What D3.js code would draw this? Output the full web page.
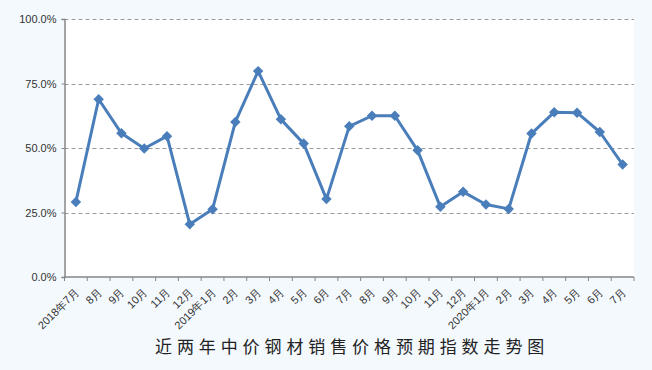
<!DOCTYPE html>
<html>
<head>
<meta charset="utf-8">
<script src="https://cdn.jsdelivr.net/npm/d3@7"></script>
<style>
  body { margin: 0; background: #f4f9fe; }
  svg { display: block; }
</style>
</head>
<body>
<div id="chart"></div>
<script>
const months = ['2018年7月', '8月', '9月', '10月', '11月', '12月', '2019年1月', '2月', '3月', '4月', '5月', '6月',
    '7月', '8月', '9月', '10月', '11月', '12月', '2020年1月', '2月', '3月', '4月', '5月', '6月', '7月'];
const indexValues = [29.1, 68.9, 55.7, 49.8, 54.6, 20.4, 26.3, 60.1, 79.8, 61.1, 51.7, 30.2,
    58.4, 62.5, 62.5, 49.1, 27.2, 33.0, 28.1, 26.4, 55.6, 63.9, 63.7, 56.2, 43.6];
const yTicks = [0, 25, 50, 75, 100];
const title = '近两年中价钢材销售价格预期指数走势图';

const width = 652;
const height = 370;
const margin = {left: 64.5, right: 18, top: 19, bottom: 93};
const W = width - margin.left - margin.right;
const H = height - margin.top - margin.bottom;
const lineColor = '#4a7ebb';

const svg = d3.select('#chart').append('svg')
    .attr('width', width)
    .attr('height', height);

svg.append('rect')
    .attr('width', width)
    .attr('height', height)
    .attr('fill', '#f4f9fe');

const chart = svg.append('g')
    .attr('transform', `translate(${margin.left},${margin.top})`);

chart.append('rect')
    .attr('width', W)
    .attr('height', H)
    .attr('fill', '#ffffff');

// band positions, points sit in the middle of each band
const xScale = d3.scaleBand()
    .domain(d3.range(months.length))
    .range([0, W]);

const yScale = d3.scaleLinear()
    .domain([0, 100])
    .range([H, 0]);

// dashed grid
chart.selectAll('.grid')
    .data(yTicks.filter(t => t > 0))
    .enter().append('line')
    .attr('class', 'grid')
    .attr('x1', 0)
    .attr('x2', W)
    .attr('y1', d => Math.round(yScale(d)) + 0.5)
    .attr('y2', d => Math.round(yScale(d)) + 0.5)
    .attr('stroke', '#9a9a9a')
    .attr('stroke-width', 1)
    .attr('stroke-dasharray', '4,3');

const yAxis = d3.axisLeft(yScale)
    .tickValues(yTicks)
    .tickSize(3)
    .tickPadding(5)
    .tickFormat(d => d.toFixed(1) + '%');

chart.append('g')
    .attr('class', 'yAxis')
    .call(yAxis)
    .call(g => g.select('.domain').attr('stroke', '#868686').attr('stroke-width', 1.5))
    .call(g => g.selectAll('.tick line').attr('stroke', '#868686'))
    .call(g => g.selectAll('text')
        .attr('fill', '#333')
        .style('font-family', '"Liberation Sans", Arial, sans-serif')
        .style('font-size', '11px'));

// x axis: ticks between categories
const xAxisG = chart.append('g')
    .attr('class', 'xAxis')
    .attr('transform', `translate(0,${H})`);

xAxisG.append('line')
    .attr('x1', 0)
    .attr('x2', W)
    .attr('stroke', '#868686')
    .attr('stroke-width', 1.5);

xAxisG.selectAll('.xtick')
    .data(d3.range(months.length + 1))
    .enter().append('line')
    .attr('class', 'xtick')
    .attr('x1', i => i < months.length ? xScale(i) : W)
    .attr('x2', i => i < months.length ? xScale(i) : W)
    .attr('y1', 0)
    .attr('y2', 4)
    .attr('stroke', '#868686')
    .attr('stroke-width', 1);

xAxisG.selectAll('.xlabel')
    .data(months)
    .enter().append('text')
    .attr('class', 'xlabel')
    .attr('transform', (d, i) => `translate(${xScale(i) + xScale.bandwidth() / 2 + 1},${13}) rotate(-45)`)
    .attr('text-anchor', 'end')
    .attr('dy', '0.35em')
    .attr('fill', '#333')
    .style('font-family', '"Liberation Sans", Arial, sans-serif')
    .style('font-size', '11px')
    .text(d => d);

const line = d3.line()
    .x((d, i) => xScale(i) + xScale.bandwidth() / 2)
    .y(d => yScale(d));

chart.append('path')
    .datum(indexValues)
    .attr('d', line)
    .attr('fill', 'none')
    .attr('stroke', lineColor)
    .attr('stroke-width', 3)
    .attr('stroke-linejoin', 'round');

const diamond = d3.symbol().type(d3.symbolDiamond2).size(70);

chart.selectAll('.marker')
    .data(indexValues)
    .enter().append('path')
    .attr('class', 'marker')
    .attr('transform', (d, i) => `translate(${xScale(i) + xScale.bandwidth() / 2},${yScale(d)})`)
    .attr('d', diamond)
    .attr('fill', lineColor);

svg.append('text')
    .attr('x', 155)
    .attr('y', 353)
    .attr('fill', '#222')
    .style('font-family', '"Noto Sans CJK SC", sans-serif')
    .style('font-size', '17px')
    .style('letter-spacing', '4.9px')
    .text(title);
</script>
</body>
</html>
